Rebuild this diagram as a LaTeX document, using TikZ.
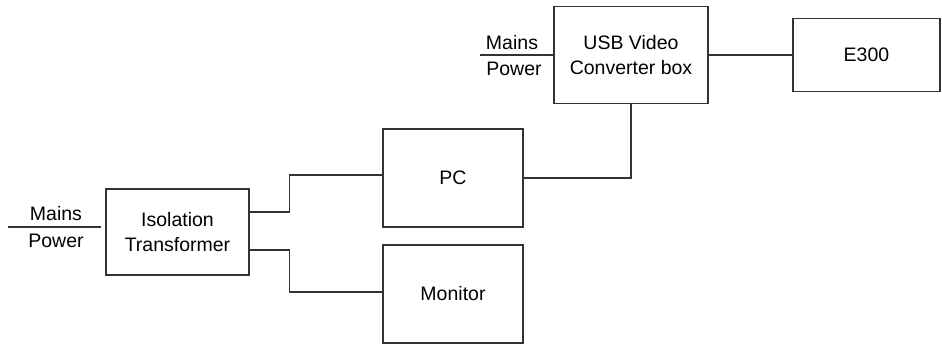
\documentclass[tikz,border=0pt]{standalone}
\usepackage{fontspec}
\setmainfont{Liberation Sans}
\begin{document}
\begin{tikzpicture}[x=1pt,y=-1pt,
  box/.style={draw=black!80,line width=1.2pt,rectangle,inner sep=0pt,align=center,font=\fontsize{19.5}{25}\selectfont},
  wire/.style={draw=black!80,line width=1.2pt},
  lbl/.style={inner sep=0pt,anchor=base,font=\fontsize{19.5}{25}\selectfont}]
\useasboundingbox (0,0) rectangle (942,345);
\node[box,minimum width=154pt,minimum height=97pt] (usb) at (631,55) {USB Video\\Converter box};
\node[box,minimum width=147pt,minimum height=73pt] (e300) at (866.5,55) {E300};
\node[box,minimum width=140pt,minimum height=98pt] (pc) at (453,178) {PC};
\node[box,minimum width=140pt,minimum height=98pt] (mon) at (453,294) {Monitor};
\node[box,minimum width=143pt,minimum height=86pt] (iso) at (177.5,232) {Isolation\\Transformer};
\coordinate (m1) at (8,227);
\coordinate (m2) at (480,55);
\node[lbl] (m1a) at (56,220) {Mains};
\node[lbl] (m1b) at (56,247) {Power};
\node[lbl] (m2a) at (512,50) {Mains};
\node[lbl] (m2b) at (514,76) {Power};
\draw[wire,shorten >=4pt] (m1) -- (m1 -| iso.west);
\draw[wire] (m2) -- (m2 -| usb.west);
\draw[wire] ([yshift=20pt]iso.east) -- ++(40,0) |- ([yshift=3pt]pc.west);
\draw[wire] ([yshift=-18pt]iso.east) -- ++(40,0) |- ([yshift=2pt]mon.west);
\draw[wire] (pc.east) -| (usb.south);
\draw[wire] (usb.east) -- (e300.west);
\end{tikzpicture}
\end{document}
